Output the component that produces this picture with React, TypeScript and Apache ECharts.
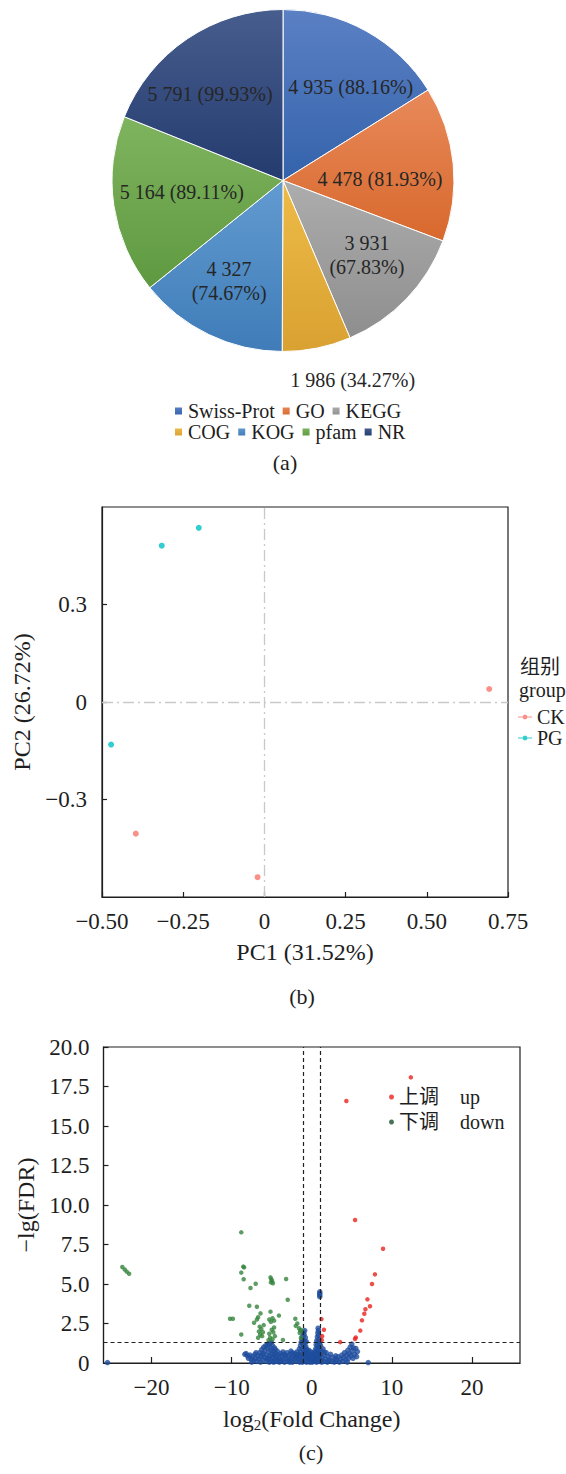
import React, { useEffect, useRef } from 'react';
import * as echarts from 'echarts';

// ---------- Panel (a): pie ----------
const pieCategories = ['Swiss-Prot', 'GO', 'KEGG', 'COG', 'KOG', 'pfam', 'NR'];
const pieCounts = [4935, 4478, 3931, 1986, 4327, 5164, 5791];
const pieRates = [88.16, 81.93, 67.83, 34.27, 74.67, 89.11, 99.93];
const pieLegendRow1 = ['Swiss-Prot', 'GO', 'KEGG'];
const pieLegendRow2 = ['COG', 'KOG', 'pfam', 'NR'];

// ---------- Panel (b): PCA ----------
const pcaGroups = ['CK', 'PG'];
const pcaCK = [[0.692, 0.04], [-0.396, -0.405], [-0.021, -0.539]];
const pcaPG = [[-0.202, 0.536], [-0.316, 0.481], [-0.472, -0.131]];

// ---------- Panel (c): volcano ----------
const volcanoLegendCn = { up: '上调', down: '下调' };
const upPoints = [
  [12.37, 18.08], [4.32, 16.58], [5.41, 9.05], [8.9, 7.23], [7.89, 5.61], [7.52, 5.0],
  [6.95, 4.03], [7.27, 3.59], [6.7, 3.4], [6.56, 3.12], [6.27, 2.7], [6.06, 2.05],
  [5.5, 1.62], [5.4, 1.52], [3.55, 1.32], [1.21, 2.78], [1.52, 2.1], [1.3, 1.7], [1.25, 1.45],
];
const downPoints = [
  [-23.65, 6.08], [-23.35, 5.92], [-23.1, 5.78], [-22.8, 5.65],
  [-10.2, 2.8], [-9.85, 2.8], [-8.8, 8.27],
  [-8.55, 6.1], [-8.45, 6.05], [-8.8, 5.72], [-8.5, 5.3],
  [-7.0, 5.02], [-7.65, 4.75],
  [-5.15, 5.42], [-5.05, 5.3], [-4.95, 5.2], [-4.85, 5.05], [-5.1, 5.1],
  [-3.2, 5.32], [-3.0, 4.0], [-7.8, 3.62], [-6.85, 3.56],
  [-6.4, 3.14], [-6.7, 2.9], [-7.2, 2.55], [-6.85, 2.75],
  [-5.15, 3.25], [-4.1, 3.0], [-4.9, 2.83], [-4.7, 2.68], [-5.1, 2.6], [-5.3, 2.75],
  [-2.05, 2.8], [-1.8, 2.5], [-2.0, 2.35],
  [-6.5, 2.3], [-6.3, 2.15], [-6.6, 2.0], [-6.1, 1.95], [-6.45, 1.8], [-6.2, 1.7], [-6.7, 1.6], [-6.0, 2.4],
  [-5.0, 2.1], [-4.8, 1.95], [-5.3, 1.85], [-4.6, 1.7], [-5.2, 1.6], [-4.9, 1.5], [-5.4, 1.45], [-4.7, 2.25],
  [-8.8, 1.8], [-3.6, 1.46],
  [-1.6, 2.2], [-1.45, 2.05], [-1.3, 2.09], [-1.5, 1.9], [-1.35, 1.6],
];
const nonePoints = [
  [-25.5, 0.03], [7.05, 0.03],
  [-8.35, 0.55], [-8.2, 0.6], [-8.0, 0.45], [-7.9, 0.3], [-7.7, 0.5], [-7.55, 0.25], [-7.4, 0.4], [-7.25, 0.15],
  [-7.1, 0.55], [-7.0, 0.3], [-6.85, 0.1], [-6.75, 0.45], [-6.6, 0.25], [-6.5, 0.65], [-6.4, 0.05], [-6.35, 0.4],
  [-6.25, 0.85], [-6.15, 0.2], [-6.05, 0.6], [-6.0, 1.0], [-5.9, 0.35], [-5.85, 0.8], [-5.75, 1.1], [-5.7, 0.1],
  [-5.65, 0.5], [-5.55, 0.95], [-5.5, 1.2], [-5.45, 0.3], [-5.4, 0.7], [-5.3, 1.25], [-5.3, 0.05], [-5.25, 0.45],
  [-5.2, 1.0], [-5.15, 0.2], [-5.1, 0.8], [-5.05, 1.3], [-5.0, 0.55], [-4.95, 0.1], [-4.9, 1.1], [-4.85, 0.35],
  [-4.8, 0.75], [-4.75, 0.05], [-4.7, 0.5], [-4.65, 0.95], [-4.6, 0.25], [-4.5, 0.6], [-4.45, 0.1], [-4.4, 0.4],
  [-4.3, 0.75], [-4.25, 0.2], [-4.15, 0.5], [-4.05, 0.05], [-4.0, 0.3], [-3.9, 0.6],
  [-3.8, 0.15], [-3.7, 0.45], [-3.6, 0.7], [-3.5, 0.25], [-3.4, 0.05], [-3.3, 0.5], [-3.2, 0.3], [-3.1, 0.65],
  [-3.0, 0.1], [-2.9, 0.4], [-2.8, 0.2], [-2.7, 0.55], [-2.6, 0.75], [-2.5, 0.3], [-2.4, 0.05], [-2.3, 0.45],
  [-2.2, 0.2], [-2.1, 0.6], [-2.0, 0.35], [-1.9, 0.1], [-1.85, 0.7], [-1.75, 0.45], [-1.7, 0.2], [-1.6, 0.55],
  [-1.55, 0.9], [-1.5, 0.05], [-1.45, 0.35], [-1.4, 1.1], [-1.38, 0.7], [-1.32, 1.3], [-1.3, 0.2], [-1.28, 0.5],
  [-1.22, 1.5], [-1.2, 0.9], [-1.15, 0.05], [-1.12, 1.7], [-1.1, 0.35], [-1.08, 1.2], [-1.05, 1.95], [-1.02, 0.65],
  [-1.0, 1.45], [-0.98, 0.15], [-0.95, 1.8], [-0.92, 1.0], [-0.9, 0.45], [-0.88, 2.05], [-0.85, 1.3], [-0.82, 0.75],
  [-0.8, 1.6], [-0.78, 0.25], [-0.75, 1.05], [-0.7, 0.55], [-0.68, 1.35], [-0.65, 0.05], [-0.6, 0.85],
  [-0.55, 0.35], [-0.5, 0.6], [-0.45, 0.15], [-0.4, 0.45], [-0.35, 0.8], [-0.3, 0.25], [-0.25, 0.05], [-0.2, 0.5],
  [-0.15, 0.3], [-0.1, 0.7], [-0.05, 0.15], [0.0, 0.4], [0.05, 0.05], [0.1, 0.6], [0.15, 0.25], [0.2, 0.45],
  [0.25, 0.1], [0.3, 0.7], [0.35, 0.35], [0.4, 0.15], [0.45, 0.55], [0.5, 0.9],
  [0.52, 0.3], [0.55, 1.15], [0.58, 0.6], [0.6, 0.05], [0.62, 1.4], [0.65, 0.85], [0.68, 0.4], [0.7, 1.65],
  [0.72, 1.1], [0.74, 0.2], [0.76, 1.9], [0.78, 0.7], [0.8, 2.2], [0.8, 1.35], [0.82, 0.45], [0.84, 2.05],
  [0.86, 1.0], [0.88, 1.75], [0.9, 0.1], [0.92, 1.5], [0.94, 0.6], [0.96, 1.25], [0.98, 0.3],
  [1.0, 4.5], [1.0, 4.4], [1.0, 4.3], [1.0, 4.2], [1.0, 0.85],
  [1.05, 0.5], [1.1, 1.1], [1.15, 0.15], [1.2, 0.7], [1.3, 0.35], [1.4, 0.9], [1.5, 0.1], [1.6, 0.5],
  [1.7, 0.25], [1.8, 0.65], [1.95, 0.05], [2.05, 0.4], [2.2, 0.2], [2.35, 0.55], [2.5, 0.1], [2.65, 0.35],
  [2.8, 0.05], [2.95, 0.25], [3.1, 0.15], [3.3, 0.4], [3.45, 0.05], [3.6, 0.25], [3.75, 0.5], [3.85, 0.1],
  [4.0, 0.35], [4.1, 0.65], [4.25, 0.2], [4.35, 0.5], [4.5, 0.8], [4.6, 0.3], [4.7, 0.6], [4.8, 1.0],
  [4.9, 0.45], [5.0, 1.2], [5.05, 0.75], [5.2, 0.95], [5.35, 0.55], [5.5, 0.92], [5.7, 0.72], [5.6, 0.4],
  [-7.5, 0.05], [-6.95, 0.65], [-6.2, 0.55], [-5.6, 0.25], [-4.55, 0.85], [-3.95, 0.15], [-3.45, 0.55],
  [-2.75, 0.05], [-2.45, 0.65], [-1.95, 0.5], [-0.72, 0.8], [-0.35, 0.5], [0.12, 0.35], [0.38, 0.6],
  [0.66, 0.15], [1.25, 0.05], [1.55, 0.7], [2.1, 0.15], [3.0, 0.45], [4.45, 0.05], [5.15, 0.3],
];
const fcThresholds = [-1, 1];
const fdrThreshold = 1.3;

// ---------- styling ----------
const FONT = "'Liberation Serif', 'Times New Roman', 'Noto Sans CJK SC', serif";
const INK = '#1e1e1e';
const pieColors = [
  ['#5b80c4', '#3463ab'],
  ['#e8895a', '#d8692d'],
  ['#adadad', '#8e8e8e'],
  ['#edbb48', '#d9a131'],
  ['#629bd0', '#3f7cb8'],
  ['#7fb45e', '#5e9940'],
  ['#475d8d', '#243b6f'],
];
// label placement inside the pie: [angle from 12 o'clock (deg, clockwise), radius fraction]
const pieLabelPolar = [[35.8, 0.677], [89.4, 0.567], [131.8, 0.658], [160.8, 1.238], [208.1, 0.669], [263.4, 0.596], [319.9, 0.662]];
const pieTwoLine = ['KEGG', 'KOG'];
const PIE_C = [283, 180.5];
const PIE_R = 171;

const minus = (s: string) => s.replace('-', '\u2212');
const fmtThousands = (n: number) => String(n).replace(/\B(?=(\d{3})+(?!\d))/g, ' ');

export default function App() {
  const ref = useRef<HTMLDivElement>(null);
  useEffect(() => {
    if (!ref.current) return;
    const chart = echarts.init(ref.current, undefined, { renderer: 'svg' });
    const axisLineStyle = { color: INK, width: 1.2 };
    const axisLine = { onZero: false, lineStyle: axisLineStyle };
    const option: any = {
      animation: false,
      textStyle: { fontFamily: FONT, color: INK },
      grid: [
        { left: 102, top: 507, width: 406, height: 390, show: true, borderColor: INK, borderWidth: 1.2, backgroundColor: 'transparent' },
        { left: 103.5, top: 1047, width: 416.5, height: 316, show: true, borderColor: INK, borderWidth: 1.2, backgroundColor: 'transparent' },
      ],
      xAxis: [
        {
          gridIndex: 0, type: 'value', min: -0.5, max: 0.75, interval: 0.25,
          axisLine, axisTick: { inside: true, length: 5, lineStyle: axisLineStyle },
          splitLine: { show: false },
          axisLabel: { fontSize: 23, color: INK, fontFamily: FONT, margin: 13, formatter: (v: number) => Math.abs(v) < 1e-9 ? '0' : minus(v.toFixed(2)) },
          name: 'PC1 (31.52%)', nameLocation: 'middle', nameGap: 43,
          nameTextStyle: { fontSize: 24, color: INK, fontFamily: FONT },
        },
        {
          gridIndex: 1, type: 'value', min: -26, max: 26, splitNumber: 5,
          axisLine, axisTick: { inside: true, length: 6, lineStyle: axisLineStyle },
          splitLine: { show: false },
          axisLabel: {
            fontSize: 23, color: INK, fontFamily: FONT, margin: 13, showMinLabel: false, showMaxLabel: false,
            formatter: (v: number) => (Math.abs(Math.round(v)) % 10 !== 0 ? '' : minus(String(Math.round(v)))),
          },
          name: 'log{sub|2}(Fold Change)', nameLocation: 'middle', nameGap: 42,
          nameTextStyle: {
            fontSize: 24, color: INK, fontFamily: FONT, lineHeight: 28,
            rich: { sub: { fontSize: 15, fontFamily: FONT, color: INK, lineHeight: 17, verticalAlign: 'bottom' } },
          },
        },
      ],
      yAxis: [
        {
          gridIndex: 0, type: 'value', min: -0.6, max: 0.6, interval: 0.3,
          axisLine, axisTick: { inside: true, length: 5, lineStyle: axisLineStyle },
          splitLine: { show: false },
          axisLabel: {
            fontSize: 23, color: INK, fontFamily: FONT, margin: 15, showMinLabel: false, showMaxLabel: false,
            formatter: (v: number) => Math.abs(v) < 1e-9 ? '0' : minus(v.toFixed(1)),
          },
          name: 'PC2 (26.72%)', nameLocation: 'middle', nameGap: 64,
          nameTextStyle: { fontSize: 24, color: INK, fontFamily: FONT },
        },
        {
          gridIndex: 1, type: 'value', min: 0, max: 20, interval: 2.5,
          axisLine, axisTick: { inside: true, length: 5, lineStyle: axisLineStyle },
          splitLine: { show: false },
          axisLabel: { fontSize: 23, color: INK, fontFamily: FONT, margin: 14, formatter: (v: number) => v === 0 ? '0' : v.toFixed(1) },
          name: '\u2212lg(FDR)', nameLocation: 'middle', nameGap: 66,
          nameTextStyle: { fontSize: 24, color: INK, fontFamily: FONT },
        },
      ],
      legend: [
        {
          data: pieLegendRow1, left: 173, top: 401, itemWidth: 9, itemHeight: 9, itemGap: 6, icon: 'rect', padding: 0,
          textStyle: { fontSize: 20, color: INK, fontFamily: FONT, lineHeight: 20 },
        },
        {
          data: pieLegendRow2, left: 173, top: 422, itemWidth: 9, itemHeight: 9, itemGap: 6, icon: 'rect', padding: 0,
          textStyle: { fontSize: 20, color: INK, fontFamily: FONT, lineHeight: 20 },
        },
        {
          data: pcaGroups, left: 518, top: 707, orient: 'vertical', itemWidth: 14, itemHeight: 6, itemGap: 1, padding: 0,
          icon: 'path://M0,2.5 L14,2.5 L14,3.5 L0,3.5 Z M7,0.5 L8.8,1.2 L9.5,3 L8.8,4.8 L7,5.5 L5.2,4.8 L4.5,3 L5.2,1.2 Z',
          textStyle: { fontSize: 20, color: INK, fontFamily: FONT, lineHeight: 20 },
        },
        {
          data: [
            { name: 'up', itemStyle: { color: '#e8231d' } },
            { name: 'down', itemStyle: { color: '#1d4f2c' } },
          ],
          left: 389, top: 1087, orient: 'vertical', itemWidth: 5, itemHeight: 5, itemGap: 5, icon: 'circle', padding: 0,
          formatter: (name: string) => `{cn|${(volcanoLegendCn as any)[name]}}{en|${name}}`,
          textStyle: {
            fontSize: 20, color: INK, fontFamily: FONT, lineHeight: 20,
            rich: { cn: { width: 61, fontSize: 20, fontFamily: FONT, color: INK }, en: { fontSize: 20, fontFamily: FONT, color: INK } },
          },
        },
      ],
      graphic: [
        { type: 'text', x: 285, y: 462, style: { text: '(a)', fontSize: 22, fontFamily: FONT, fill: INK, align: 'center', verticalAlign: 'middle' } },
        { type: 'text', x: 302, y: 996, style: { text: '(b)', fontSize: 22, fontFamily: FONT, fill: INK, align: 'center', verticalAlign: 'middle' } },
        { type: 'text', x: 311, y: 1452, style: { text: '(c)', fontSize: 22, fontFamily: FONT, fill: INK, align: 'center', verticalAlign: 'middle' } },
        { type: 'text', x: 520, y: 667, style: { text: '组别', fontSize: 20, fontFamily: FONT, fill: INK, align: 'left', verticalAlign: 'middle' } },
        { type: 'text', x: 519, y: 690, style: { text: 'group', fontSize: 20, fontFamily: FONT, fill: INK, align: 'left', verticalAlign: 'middle' } },
      ],
      series: [
        {
          type: 'pie', center: PIE_C, radius: PIE_R, startAngle: 90, clockwise: true,
          itemStyle: { borderColor: '#ffffff', borderWidth: 1 },
          label: {
            show: true, position: 'inside', fontSize: 20, fontFamily: FONT, color: '#262626', lineHeight: 24,
            formatter: (p: any) => {
              const i = p.dataIndex;
              const sep = pieTwoLine.includes(pieCategories[i]) ? '\n' : ' ';
              return `${fmtThousands(pieCounts[i])}${sep}(${pieRates[i].toFixed(2)}%)`;
            },
          },
          labelLine: { show: false },
          labelLayout: (p: any) => {
            const [ang, frac] = pieLabelPolar[p.dataIndex];
            const a = (ang * Math.PI) / 180;
            const r = frac * PIE_R;
            return { x: PIE_C[0] + r * Math.sin(a), y: PIE_C[1] - r * Math.cos(a), align: 'center', verticalAlign: 'middle' };
          },
          data: pieCategories.map((name, i) => ({
            name, value: pieCounts[i],
            itemStyle: {
              color: { type: 'linear', x: 0, y: 0, x2: 0, y2: 1, colorStops: [{ offset: 0, color: pieColors[i][0] }, { offset: 1, color: pieColors[i][1] }] },
            },
          })),
        },
        {
          name: 'CK', type: 'scatter', xAxisIndex: 0, yAxisIndex: 0, symbolSize: 6, itemStyle: { color: '#f8766d' },
          data: pcaCK,
          markLine: {
            silent: true, symbol: 'none', label: { show: false },
            lineStyle: { color: '#c9c9c9', width: 1.3, type: [11, 4, 2, 4] },
            data: [{ xAxis: 0 }, { yAxis: 0 }],
          },
        },
        { name: 'PG', type: 'scatter', xAxisIndex: 0, yAxisIndex: 0, symbolSize: 6, itemStyle: { color: '#00bfc4' }, data: pcaPG },
        {
          name: 'none', type: 'scatter', xAxisIndex: 1, yAxisIndex: 1, symbolSize: 5.5, itemStyle: { color: '#1f4e9e' },
          data: nonePoints,
          markLine: {
            silent: true, symbol: 'none', label: { show: false },
            lineStyle: { color: '#222', width: 1.2, type: [4, 3] },
            data: [...fcThresholds.map((v) => ({ xAxis: v })), { yAxis: fdrThreshold }],
          },
        },
        { name: 'down', type: 'scatter', xAxisIndex: 1, yAxisIndex: 1, symbolSize: 4.5, itemStyle: { color: '#35843c' }, data: downPoints },
        { name: 'up', type: 'scatter', xAxisIndex: 1, yAxisIndex: 1, symbolSize: 4.5, itemStyle: { color: '#e8231d' }, data: upPoints },
      ],
    };
    chart.setOption(option);
    return () => chart.dispose();
  }, []);
  return <div ref={ref} style={{ position: 'absolute', left: 0, top: 0, width: 566, height: 1474, background: '#ffffff' }} />;
}
